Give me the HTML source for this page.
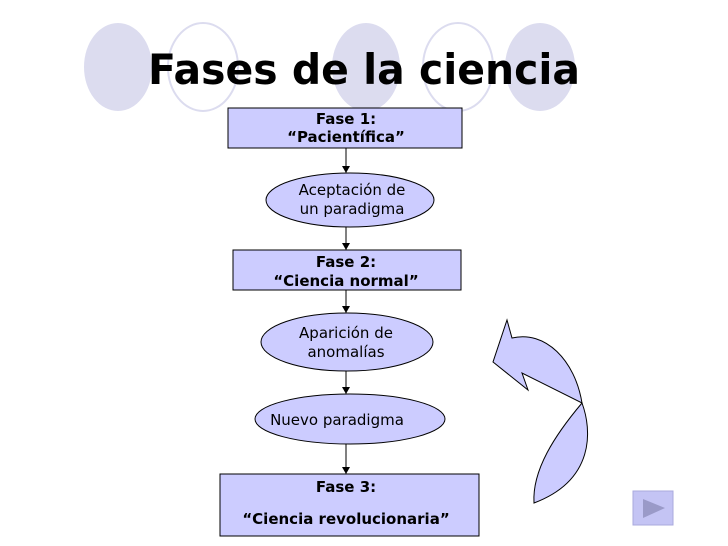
<!DOCTYPE html>
<html><head><meta charset="utf-8"><style>
body{margin:0;background:#fff;}
svg{display:block;font-family:"DejaVu Sans","Liberation Sans",sans-serif;}
</style></head><body>
<svg width="728" height="546" viewBox="0 0 728 546">
<defs><marker id="a" markerWidth="8" markerHeight="8" refX="7" refY="4" orient="auto" markerUnits="userSpaceOnUse"><path d="M0,0 L7,4 L0,8 z" fill="#000"/></marker></defs>
<ellipse cx="118" cy="67" rx="34" ry="44" fill="#dcdcef"/>
<ellipse cx="203" cy="67" rx="35" ry="44" fill="none" stroke="#dcdcef" stroke-width="2"/>
<ellipse cx="366" cy="67" rx="34" ry="44" fill="#dcdcef"/>
<ellipse cx="458" cy="67" rx="35" ry="44" fill="none" stroke="#dcdcef" stroke-width="2"/>
<ellipse cx="540" cy="67" rx="35" ry="44" fill="#dcdcef"/>
<text x="364" y="84" text-anchor="middle" font-size="42" font-weight="bold" textLength="432" lengthAdjust="spacingAndGlyphs">Fases de la ciencia</text>
<g stroke="#000" stroke-width="1" fill="#ccccff">
<rect x="228" y="108" width="234" height="40"/>
<ellipse cx="350" cy="200" rx="84" ry="27"/>
<rect x="233" y="250" width="228" height="40"/>
<ellipse cx="347" cy="342" rx="86" ry="29"/>
<ellipse cx="350" cy="419" rx="95" ry="25"/>
<rect x="220" y="474" width="259" height="62"/>
</g>
<g stroke="#000" stroke-width="1" marker-end="url(#a)">
<line x1="346" y1="148" x2="346" y2="173"/>
<line x1="346" y1="227" x2="346" y2="250"/>
<line x1="346" y1="290" x2="346" y2="313"/>
<line x1="346" y1="371" x2="346" y2="394"/>
<line x1="346" y1="444" x2="346" y2="474"/>
</g>
<g font-size="15" text-anchor="middle">
<text x="346" y="124" font-weight="bold">Fase 1:</text>
<text x="346" y="142" font-weight="bold">“Pacientífica”</text>
<text x="352" y="195">Aceptación de</text>
<text x="352" y="214">un paradigma</text>
<text x="346" y="267" font-weight="bold">Fase 2:</text>
<text x="346" y="286" font-weight="bold">“Ciencia normal”</text>
<text x="346" y="338">Aparición de</text>
<text x="346" y="357">anomalías</text>
<text x="337" y="425">Nuevo paradigma</text>
<text x="346" y="492" font-weight="bold">Fase 3:</text>
<text x="346" y="524" font-weight="bold">“Ciencia revolucionaria”</text>
</g>
<g fill="#ccccff" stroke="#000" stroke-width="1">
<path d="M507,320 L512,338 C545,330 575,360 582,403 L522,373 L528,390 L493,362 Z"/>
<path d="M582,403 C592,430 595,480 534,503 C532,470 555,435 582,403 Z"/>
</g>
<rect x="633" y="491" width="40" height="34" fill="#c4c4f4" stroke="#aaaadd"/>
<path d="M643,499 L665,508 L643,518 Z" fill="#9a9ac8"/>
</svg>
</body></html>
